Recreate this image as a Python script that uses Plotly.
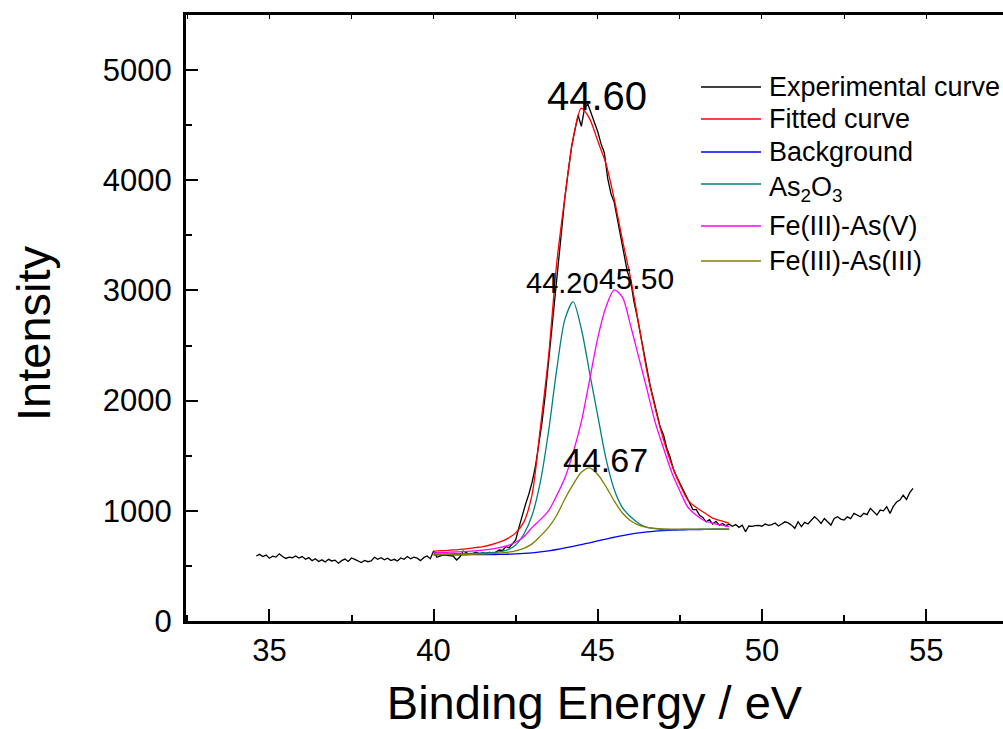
import plotly.graph_objects as go

# ---------------- data ----------------
exp_x = [
    34.6, 34.7, 34.8, 34.9, 35.0, 35.1, 35.2, 35.3, 35.4, 35.5, 35.6, 35.7, 35.8, 35.9,
    36.0, 36.1, 36.2, 36.3, 36.4, 36.5, 36.6, 36.7, 36.8, 36.9,
    37.0, 37.1, 37.2, 37.3, 37.4, 37.5, 37.6, 37.7, 37.8, 37.9,
    38.0, 38.1, 38.2, 38.3, 38.4, 38.5, 38.6, 38.7, 38.8, 38.9,
    39.0, 39.1, 39.2, 39.3, 39.4, 39.5, 39.6, 39.7, 39.8, 39.9,
    40.0, 40.1, 40.2, 40.3, 40.4, 40.5, 40.6, 40.7, 40.8, 40.9,
    41.0, 41.1, 41.2, 41.3, 41.4, 41.5, 41.6, 41.7, 41.8, 41.9,
    42.0, 42.1, 42.2, 42.3, 42.4, 42.5, 42.6, 42.7, 42.8, 42.9,
    43.0, 43.1, 43.2, 43.3, 43.4, 43.5, 43.6, 43.7, 43.8, 43.9,
    44.0, 44.1, 44.2, 44.3, 44.4, 44.5, 44.6, 44.7, 44.8, 44.9,
    45.0, 45.1, 45.2, 45.3, 45.4, 45.5, 45.6, 45.7, 45.8, 45.9,
    46.0, 46.1, 46.2, 46.3, 46.4, 46.5, 46.6, 46.7, 46.8, 46.9,
    47.0, 47.1, 47.2, 47.3, 47.4, 47.5, 47.6, 47.7, 47.8, 47.9,
    48.0, 48.1, 48.2, 48.3, 48.4, 48.5, 48.6, 48.7, 48.8, 48.9,
    49.0, 49.1, 49.2, 49.3, 49.4, 49.5, 49.6, 49.7, 49.8, 49.9,
    50.0, 50.1, 50.2, 50.3, 50.4, 50.5, 50.6, 50.7, 50.8, 50.9,
    51.0, 51.1, 51.2, 51.3, 51.4, 51.5, 51.6, 51.7, 51.8, 51.9,
    52.0, 52.1, 52.2, 52.3, 52.4, 52.5, 52.6, 52.7, 52.8, 52.9,
    53.0, 53.1, 53.2, 53.3, 53.4, 53.5, 53.6, 53.7, 53.8, 53.9,
    54.0, 54.1, 54.2, 54.3, 54.4, 54.5, 54.6,
]
exp_y = [
    590, 605, 585, 598, 570, 588, 580, 610, 585, 568, 580, 574, 590, 572,
    585, 560, 575, 548, 565, 540, 555, 535, 560, 545,
    552, 525, 548, 562, 540, 572, 560, 545, 530, 550,
    538, 545, 578, 560, 575, 555, 570, 548, 560, 545,
    572, 560, 585, 565, 580, 570, 548, 575, 590, 565,
    635, 578, 590, 600, 595, 592, 588, 554, 580, 635,
    618, 605, 614, 625, 610, 620, 612, 625, 608, 630,
    644, 640, 674, 665, 705, 735, 850, 960, 1060, 1150,
    1260, 1400, 1580, 1800, 2050, 2330, 2620, 2950, 3250, 3560,
    3850, 4080, 4300, 4450, 4590, 4490, 4660, 4690, 4610, 4520,
    4440, 4330, 4250, 4020, 3880, 3800, 3640, 3480, 3330, 3170,
    3090, 2900, 2760, 2600, 2420, 2270, 2130, 2010, 1880, 1760,
    1690, 1570, 1490, 1380, 1310, 1250, 1190, 1120, 1070, 1010,
    1010, 960, 940, 900, 920, 880, 905, 870, 885, 865,
    878, 860, 875, 850, 870, 810, 862, 858, 865, 868,
    860, 880, 868, 875, 890, 862, 880, 900, 890, 870,
    841, 901, 856, 895, 880, 915, 946, 920, 886, 931,
    900, 871, 930, 946, 925, 916, 945, 930, 977, 960,
    946, 977, 965, 1022, 990, 962, 1007, 1000, 1037, 977,
    1040, 1080, 1098, 1143, 1103, 1165, 1204,
]

fit_x = [
    40.0, 40.25, 40.5, 40.75, 41.0, 41.25, 41.5, 41.75, 42.0, 42.25,
    42.5, 42.75, 43.0, 43.25, 43.5, 43.75, 44.0, 44.25, 44.5, 44.75,
    45.0, 45.25, 45.5, 45.75, 46.0, 46.25, 46.5, 46.75, 47.0, 47.25,
    47.5, 47.75, 48.0, 48.25, 48.5, 48.75, 49.0,
]
fitted_y = [
    635, 638, 643, 648, 655, 665, 676, 692, 715, 748,
    800, 900, 1150, 1750, 2400, 3250, 3850, 4380, 4655, 4560,
    4356, 4150, 3830, 3460, 3110, 2690, 2260, 1930, 1650, 1420,
    1240, 1095, 1030, 982, 933, 910, 887,
]
background_y = [
    600, 600, 600, 601, 601, 602, 602, 603, 604, 606,
    609, 613, 619, 627, 637, 649, 663, 678, 694, 710,
    727, 744, 760, 775, 788, 799, 808, 815, 820, 824,
    827, 829, 830, 831, 831, 832, 832,
]
as2o3_y = [
    608, 609, 610, 611, 612, 614, 617, 620, 627, 645,
    690, 790, 960, 1260, 1720, 2283, 2740, 2897, 2650, 2255,
    1861, 1473, 1193, 1029, 946, 885, 850, 838, 828, 829,
    830, 831, 832, 832, 833, 833, 833,
]
fe_as5_y = [
    620, 622, 625, 628, 632, 637, 643, 652, 665, 685,
    715, 765, 850, 920, 1000, 1140, 1300, 1530, 1810, 2187,
    2570, 2850, 3005, 2940, 2680, 2390, 2100, 1800, 1570, 1350,
    1180, 1030, 960, 910, 887, 870, 856,
]
fe_as3_y = [
    603, 603, 604, 604, 605, 606, 608, 611, 616, 624,
    637, 660, 700, 770, 850, 960, 1110, 1240, 1350, 1390,
    1330, 1220, 1090, 980, 910, 870, 850, 840, 836, 834,
    833, 833, 833, 833, 833, 833, 833,
]

series_names = ["Experimental curve", "Fitted curve", "Background",
                "As<sub>2</sub>O<sub>3</sub>", "Fe(III)-As(V)", "Fe(III)-As(III)"]
series_colors = ["#000000", "#FF0000", "#0000FF", "#008080", "#FF00FF", "#808000"]

peak_labels = ["44.60", "44.20", "45.50", "44.67"]
peak_label_x = [44.99, 43.92, 46.18, 45.23]
peak_label_y = [4764, 3067, 3113, 1461]
peak_label_size = [40, 29, 30, 34]

# legend key placement (paper coordinates of the plot area)
legend_line_x0, legend_line_x1, legend_text_x = 0.6304, 0.7038, 0.7112
legend_line_y = [0.8812, 0.8284, 0.7739, 0.7211, 0.6518, 0.5941]
legend_text_y = [0.8812, 0.8284, 0.7739, 0.7130, 0.6518, 0.5941]

# ---------------- figure ----------------
FONT = "Liberation Sans, Arial, Helvetica, sans-serif"
fig = go.Figure()

fig.add_trace(go.Scatter(x=exp_x, y=exp_y, mode="lines", name=series_names[0],
                         line=dict(color=series_colors[0], width=1.3)))
fit_series = [fitted_y, background_y, as2o3_y, fe_as5_y, fe_as3_y]
for i, ys in enumerate(fit_series, start=1):
    fig.add_trace(go.Scatter(x=fit_x, y=ys, mode="lines", name=series_names[i],
                             line=dict(color=series_colors[i], width=1.3, shape="spline",
                                       smoothing=0.8)))
# empty trace so that the top (mirror) axis is drawn
fig.add_trace(go.Scatter(x=[], y=[], xaxis="x2", yaxis="y", showlegend=False,
                         hoverinfo="skip"))

for txt, lx, ly, fs in zip(peak_labels, peak_label_x, peak_label_y, peak_label_size):
    fig.add_annotation(x=lx, y=ly, xref="x", yref="y", text=txt, showarrow=False,
                       xanchor="center", yanchor="middle",
                       font=dict(size=fs, family=FONT, color="black"))

# legend drawn as keys + texts
for name, col, ly, ty in zip(series_names, series_colors, legend_line_y, legend_text_y):
    fig.add_shape(type="line", xref="paper", yref="paper",
                  x0=legend_line_x0, x1=legend_line_x1, y0=ly, y1=ly,
                  line=dict(color=col, width=1.5))
    fig.add_annotation(x=legend_text_x, y=ty, xref="paper", yref="paper", text=name,
                       showarrow=False, xanchor="left", yanchor="middle",
                       font=dict(size=27, family=FONT, color="black"))

# y-axis title as rotated text
fig.add_annotation(x=-(186 - 33) / 817, y=(621 - 333) / 606, xref="paper", yref="paper",
                   text="Intensity", showarrow=False, textangle=-90,
                   xanchor="center", yanchor="middle",
                   font=dict(size=47, family=FONT, color="black"))

XR = [32.46, 57.34]
fig.update_layout(
    width=1003, height=729,
    margin=dict(l=186, r=0, t=15, b=108),
    plot_bgcolor="white", paper_bgcolor="white",
    font=dict(family=FONT, color="black"),
    showlegend=False,
    xaxis=dict(range=XR, tickmode="linear", tick0=35, dtick=5,
               ticks="inside", ticklen=12, tickwidth=2, tickcolor="black",
               showline=True, linewidth=3, linecolor="black", mirror=False,
               showgrid=False, zeroline=False,
               tickfont=dict(size=31, family=FONT, color="black"),
               ticklabelstandoff=0,
               minor=dict(ticks="inside", ticklen=6, tickwidth=2, tickcolor="black",
                          dtick=2.5, tick0=35, showgrid=False),
               title=dict(text="Binding Energy / eV",
                          font=dict(size=47, family=FONT, color="black"),
                          standoff=20),
               automargin=False),
    xaxis2=dict(range=XR, overlaying="x", side="top", anchor="y",
                tickmode="linear", tick0=35, dtick=2.5,
                ticks="inside", ticklen=4, tickwidth=1, tickcolor="black",
                showline=True, linewidth=3, linecolor="black",
                showticklabels=False, showgrid=False, zeroline=False,
                automargin=False),
    yaxis=dict(range=[0, 5500], tickmode="linear", tick0=0, dtick=1000,
               ticks="inside", ticklen=12, tickwidth=2, tickcolor="black",
               showline=True, linewidth=3, linecolor="black", mirror=False,
               showgrid=False, zeroline=False,
               tickfont=dict(size=31, family=FONT, color="black"),
               ticklabelstandoff=5,
               minor=dict(ticks="inside", ticklen=6, tickwidth=2, tickcolor="black",
                          dtick=500, showgrid=False),
               automargin=False),
)

# remove the default page margin so the figure fills the window exactly
page_fix = ("document.body.style.margin='0';"
            "document.documentElement.style.overflow='hidden';"
            "document.body.style.overflow='hidden';")
fig.write_html("out.html", post_script=page_fix,
               config={"displayModeBar": False})
